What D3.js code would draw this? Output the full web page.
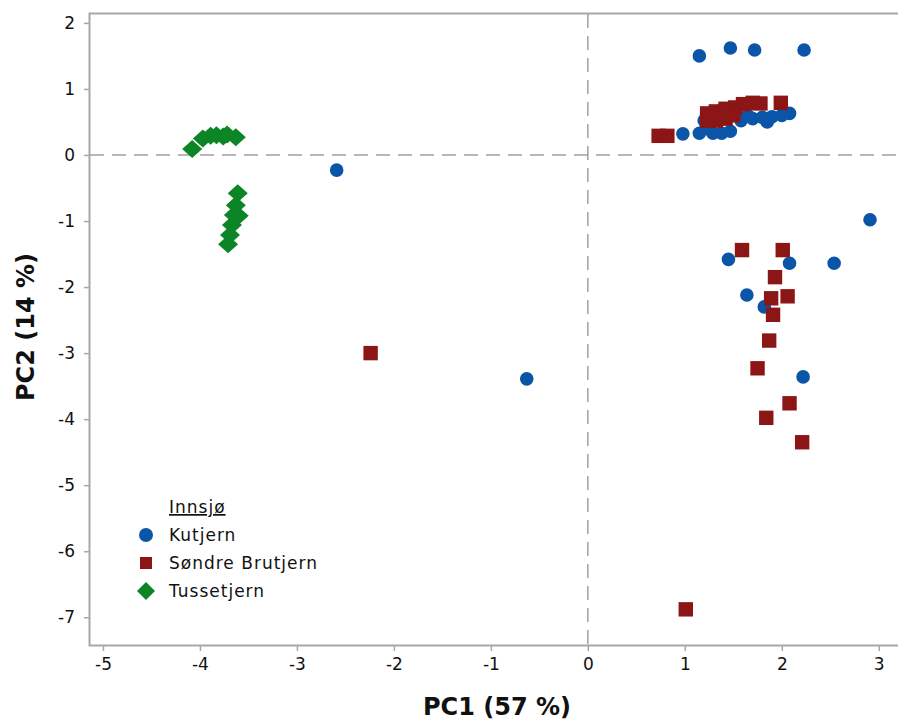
<!DOCTYPE html>
<html>
<head>
<meta charset="utf-8">
<script src="https://cdnjs.cloudflare.com/ajax/libs/d3/7.8.5/d3.min.js"></script>
<style>
  body { margin: 0; background: #fff; }
  text { font-family: "DejaVu Sans", sans-serif; fill: #111; }
</style>
</head>
<body>
<div id="chart"></div>
<script>
// PCA scores per lake
var kutjern = [
  [1.15, 1.50], [1.47, 1.62], [1.72, 1.59], [2.23, 1.59],
  [0.98, 0.32], [1.15, 0.33], [1.22, 0.40], [1.29, 0.33], [1.38, 0.33],
  [1.47, 0.36], [1.20, 0.52], [1.58, 0.52], [1.70, 0.55], [1.80, 0.57],
  [1.90, 0.58], [2.00, 0.60], [2.08, 0.63], [1.85, 0.50], [1.65, 0.60],
  [2.91, -0.98], [-2.59, -0.23], [-0.63, -3.39],
  [1.45, -1.58], [2.08, -1.64], [2.54, -1.64], [1.64, -2.12], [1.82, -2.30],
  [2.22, -3.36]
];
var sondreBrutjern = [
  [0.73, 0.29], [0.82, 0.29],
  [1.23, 0.52], [1.23, 0.63], [1.32, 0.52], [1.32, 0.66], [1.42, 0.55],
  [1.42, 0.70], [1.52, 0.72], [1.50, 0.60], [1.60, 0.77], [1.70, 0.79],
  [1.78, 0.78], [1.99, 0.79],
  [-2.24, -3.00], [1.01, -6.88],
  [1.59, -1.44], [2.01, -1.44], [1.93, -1.85], [1.89, -2.17], [2.06, -2.14],
  [1.91, -2.42], [1.87, -2.81], [1.75, -3.23], [2.08, -3.76], [1.84, -3.98],
  [2.21, -4.35]
];
var tussetjern = [
  [-4.08, 0.09], [-3.97, 0.25], [-3.89, 0.29], [-3.83, 0.30], [-3.76, 0.28],
  [-3.72, 0.31], [-3.63, 0.27],
  [-3.61, -0.58], [-3.63, -0.76], [-3.65, -0.91], [-3.60, -0.92],
  [-3.67, -1.06], [-3.69, -1.21], [-3.71, -1.35]
];
var xTicks = [-5, -4, -3, -2, -1, 0, 1, 2, 3];
var yTicks = [2, 1, 0, -1, -2, -3, -4, -5, -6, -7];
var seriesNames = ["Kutjern", "Søndre Brutjern", "Tussetjern"];

var width = 898, height = 720;
var svg = d3.select("#chart").append("svg")
  .attr("width", width).attr("height", height);

var x = d3.scaleLinear().domain([-5.144, 3.25]).range([89, 903]);
var y = d3.scaleLinear().domain([2.15, -7.42]).range([13, 645]);

var axisColor = "#a8a8a8";

// frame lines (left, top, bottom)
svg.append("path")
  .attr("d", "M903,13.5H89.5V645.5H903")
  .attr("fill", "none").attr("stroke", axisColor).attr("stroke-width", 2);

// zero reference lines
svg.append("line")
  .attr("x1", x(0)).attr("x2", x(0)).attr("y1", 14).attr("y2", 644)
  .attr("stroke", "#a0a0a0").attr("stroke-width", 1.5).attr("stroke-dasharray", "14,8");
svg.append("line")
  .attr("x1", 90).attr("x2", 903).attr("y1", y(0)).attr("y2", y(0))
  .attr("stroke", "#a0a0a0").attr("stroke-width", 1.5).attr("stroke-dasharray", "14,8");

// x axis
var xAxis = svg.append("g").attr("transform", "translate(0,646)")
  .call(d3.axisBottom(x).tickValues(xTicks).tickSize(5).tickPadding(7)
    .tickFormat(function (d) { return d; }));
xAxis.select(".domain").remove();
xAxis.selectAll("line").attr("stroke", axisColor).attr("stroke-width", 1.5);
xAxis.selectAll("text").style("font-size", "17px").attr("font-family", null);

// y axis
var yAxis = svg.append("g").attr("transform", "translate(89,0)")
  .call(d3.axisLeft(y).tickValues(yTicks).tickSize(5).tickPadding(9)
    .tickFormat(function (d) { return d; }));
yAxis.select(".domain").remove();
yAxis.selectAll("line").attr("stroke", axisColor).attr("stroke-width", 1.5);
yAxis.selectAll("text").style("font-size", "17px").attr("font-family", null);

// axis titles
svg.append("text")
  .attr("x", 497).attr("y", 715)
  .attr("text-anchor", "middle")
  .style("font-size", "24px").style("font-weight", "bold")
  .text("PC1 (57 %)");
svg.append("text")
  .attr("transform", "translate(34,327) rotate(-90)")
  .attr("text-anchor", "middle")
  .style("font-size", "24px").style("font-weight", "bold")
  .text("PC2 (14 %)");

var colors = ["#0b55a8", "#8c1515", "#0c8526"];
function circle(r) { return d3.symbol().type(d3.symbolCircle).size(Math.PI * r * r)(); }
function square(h) { return "M" + (-h) + "," + (-h) + "H" + h + "V" + h + "H" + (-h) + "Z"; }
function diamond(w, h) { return "M" + (-w) + ",0L0," + (-h) + "L" + w + ",0L0," + h + "Z"; }
var plotShapes = [circle(6.8), square(7.2), diamond(10, 9)];
var legendShapes = [circle(7), square(6), diamond(9, 9)];

function drawSeries(data, i) {
  svg.append("g").selectAll("path")
    .data(data)
    .enter()
    .append("path")
    .attr("transform", function (d) { return "translate(" + x(d[0]) + "," + y(d[1]) + ")"; })
    .attr("d", plotShapes[i])
    .attr("fill", colors[i]);
}
drawSeries(kutjern, 0);
drawSeries(sondreBrutjern, 1);
drawSeries(tussetjern, 2);

// legend
var legend = svg.append("g");
legend.append("text")
  .attr("x", 169).attr("y", 513)
  .style("font-size", "17px").style("letter-spacing", "1px")
  .style("text-decoration", "underline")
  .text("Innsjø");
seriesNames.forEach(function (name, i) {
  var cy = 535 + i * 28;
  legend.append("path")
    .attr("transform", "translate(146," + cy + ")")
    .attr("d", legendShapes[i])
    .attr("fill", colors[i]);
  legend.append("text")
    .attr("x", 169).attr("y", cy + 6)
    .style("font-size", "17px").style("letter-spacing", "1px")
    .text(name);
});
</script>
</body>
</html>
